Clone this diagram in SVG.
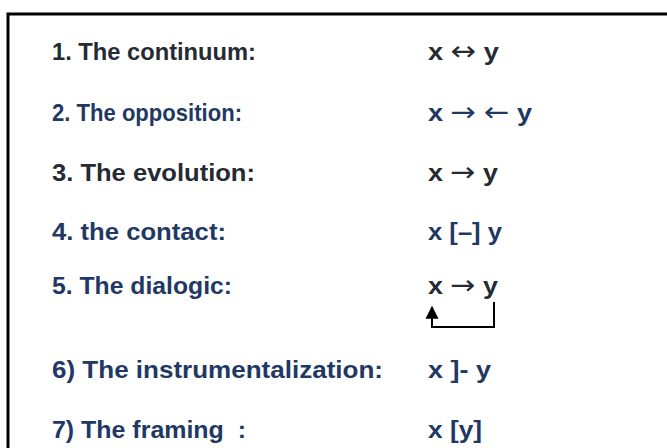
<svg xmlns="http://www.w3.org/2000/svg" width="667" height="448" viewBox="0 0 667 448">
<defs>
<style>
text{font-family:"Liberation Sans",Arial,sans-serif;font-weight:bold;font-size:24px}
.g{fill:#262a33}
.b{fill:#1f3864}
.a{font-family:"DejaVu Sans",sans-serif;font-weight:normal;font-size:27px}
.c{fill:none;stroke:#000;stroke-width:2}
</style>
<marker id="ah" viewBox="0 0 10 10" refX="9" refY="5" markerWidth="13" markerHeight="15" markerUnits="userSpaceOnUse" orient="auto">
<path d="M0,0 L10,5 L0,10 Z" fill="#000"/>
</marker>
</defs>
<rect width="667" height="448" fill="#fff"/>
<path d="M8,460 V14 H680" fill="none" stroke="#000" stroke-width="3"/>
<g id="row1"><text class="g" x="52" y="60" textLength="204" lengthAdjust="spacingAndGlyphs">1. The continuum:</text><text class="g" x="428" y="60" textLength="71" lengthAdjust="spacingAndGlyphs">x <tspan class="a">↔</tspan> y</text></g>
<g id="row2"><text class="b" x="52" y="121" textLength="190" lengthAdjust="spacingAndGlyphs">2. The opposition:</text><text class="b" x="428" y="121" textLength="104" lengthAdjust="spacingAndGlyphs">x <tspan class="a">→</tspan> <tspan class="a">←</tspan> y</text></g>
<g id="row3"><text class="g" x="52" y="181" textLength="203" lengthAdjust="spacingAndGlyphs">3. The evolution:</text><text class="g" x="428" y="181" textLength="70" lengthAdjust="spacingAndGlyphs">x <tspan class="a">→</tspan> y</text></g>
<g id="row4"><text class="b" x="52" y="240" textLength="174" lengthAdjust="spacingAndGlyphs">4. the contact:</text><text class="b" x="428" y="240" textLength="74" lengthAdjust="spacingAndGlyphs">x [–] y</text></g>
<g id="row5"><text class="b" x="52" y="294" textLength="180" lengthAdjust="spacingAndGlyphs">5. The dialogic:</text><text class="g" x="428" y="294" textLength="70" lengthAdjust="spacingAndGlyphs">x <tspan class="a">→</tspan> y</text></g>
<g id="row6"><text class="b" x="52" y="378" textLength="331" lengthAdjust="spacingAndGlyphs">6) The instrumentalization:</text><text class="b" x="428" y="378" textLength="63" lengthAdjust="spacingAndGlyphs">x ]- y</text></g>
<g id="row7"><text class="b" x="52" y="438" textLength="194" lengthAdjust="spacingAndGlyphs" xml:space="preserve">7) The framing  :</text><text class="b" x="428" y="438" textLength="54" lengthAdjust="spacingAndGlyphs">x [y]</text></g>
<g id="connectors"><path class="c" d="M494,302 V327 H432 V307" marker-end="url(#ah)"/></g>
</svg>
